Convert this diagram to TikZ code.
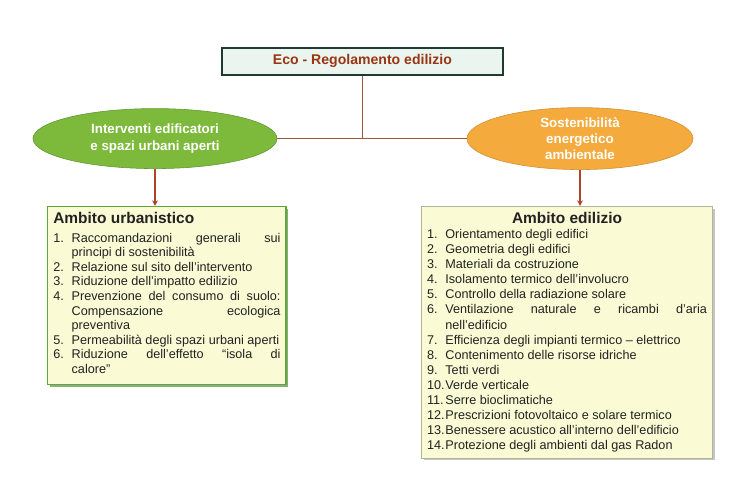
\documentclass[tikz,border=0pt]{standalone}
\usepackage{fontspec}
\setmainfont{Liberation Sans}
\usetikzlibrary{arrows.meta,positioning,calc,shapes.geometric,shadows}
\definecolor{TitoloBordo}{HTML}{1F3B2E}
\definecolor{TitoloFondo}{HTML}{EAF5EF}
\definecolor{TitoloTesto}{HTML}{9A3412}
\definecolor{Verde}{HTML}{7DBA3C}
\definecolor{Arancio}{HTML}{F4AA3C}
\definecolor{Linea}{HTML}{A0553A}
\definecolor{Freccia}{HTML}{B04228}
\definecolor{Crema}{HTML}{FAFAD4}
\definecolor{BordoVerde}{HTML}{5FA83C}
\definecolor{BordoGrigio}{HTML}{B4B49A}
\definecolor{Ink}{HTML}{222222}

\newcommand{\voce}[2]{\par\noindent\hangindent=1.45em\hangafter=1\makebox[1.45em][l]{#1.}#2}

\tikzset{
  titolo/.style={draw=TitoloBordo,line width=1.1pt,fill=TitoloFondo,minimum width=7.03cm,minimum height=0.68cm,inner sep=0pt,text=TitoloTesto,font=\bfseries\fontsize{10}{12}\selectfont,drop shadow={shadow xshift=1pt,shadow yshift=-1pt,opacity=0.5}},
  ovale/.style={ellipse,inner sep=0pt,text=white,align=center,font=\bfseries\fontsize{9.5}{11.5}\selectfont},
  scheda/.style={rectangle,anchor=north west,fill=Crema,inner sep=4pt,align=justify,text=Ink},
  ramo/.style={Linea,line width=0.8pt},
  freccia/.style={-{Stealth[length=4pt,width=4pt]},Freccia,line width=0.8pt}
}

\begin{document}
\begin{tikzpicture}[x=1cm,y=1cm,>=stealth]
\useasboundingbox (0,0) rectangle (18.425,12.425);
% titolo
\node[titolo] (eco) at (9.06,10.89) {Eco - Regolamento edilizio};
% i due rami
\node[ovale,fill=Verde,draw=Verde!80!black,line width=0.4pt,minimum width=6.1cm,minimum height=1.5cm] (interv) at (3.875,8.96) {Interventi edificatori\\e spazi urbani aperti};
\node[ovale,fill=Arancio,draw=Arancio!85!black,line width=0.4pt,minimum width=5.65cm,minimum height=1.55cm] (sosten) at (14.5,8.96) {Sostenibilità\\energetico\\ambientale};
\draw[ramo] (interv.east) -- (sosten.west);
\draw[ramo] (eco.south) -- (eco.south |- interv.east);
% schede
\node[scheda,draw=BordoVerde,line width=1pt,text width=5.68cm,font=\fontsize{9}{10.35}\selectfont,drop shadow={shadow xshift=1.5pt,shadow yshift=-1.5pt,opacity=0.6,fill=BordoVerde!70!black}] (urb) at (1.175,7.275) {%
\noindent{\fontsize{11}{15}\selectfont\bfseries Ambito urbanistico}\par\vspace{3pt}
\voce{1}{Raccomandazioni generali sui\linebreak principi di sostenibilità}
\voce{2}{Relazione sul sito dell'intervento}
\voce{3}{Riduzione dell'impatto edilizio}
\voce{4}{Prevenzione del consumo di suolo:\linebreak Compensazione ecologica\linebreak preventiva}
\voce{5}{Permeabilità degli spazi urbani aperti}
\voce{6}{Riduzione dell'effetto “isola di\linebreak calore”}\par\vspace{4pt}};
\node[scheda,draw=BordoGrigio,line width=0.6pt,text width=7.0cm,font=\fontsize{9}{10.75}\selectfont,drop shadow={shadow xshift=1.5pt,shadow yshift=-1.5pt,opacity=0.45}] (edil) at (10.525,7.275) {%
{\centering\fontsize{11}{14}\selectfont\bfseries Ambito edilizio\par}
\voce{1}{Orientamento degli edifici}
\voce{2}{Geometria degli edifici}
\voce{3}{Materiali da costruzione}
\voce{4}{Isolamento termico dell'involucro}
\voce{5}{Controllo della radiazione solare}
\voce{6}{Ventilazione naturale e ricambi d'aria\linebreak nell'edificio}
\voce{7}{Efficienza degli impianti termico – elettrico}
\voce{8}{Contenimento delle risorse idriche}
\voce{9}{Tetti verdi}
\voce{10}{Verde verticale}
\voce{11}{Serre bioclimatiche}
\voce{12}{Prescrizioni fotovoltaico e solare termico}
\voce{13}{Benessere acustico all'interno dell'edificio}
\voce{14}{Protezione degli ambienti dal gas Radon}\par};
% frecce
\draw[freccia] (interv.south) -- (interv.south |- urb.north);
\draw[freccia] (sosten.south) -- (sosten.south |- edil.north);
\end{tikzpicture}
\end{document}
